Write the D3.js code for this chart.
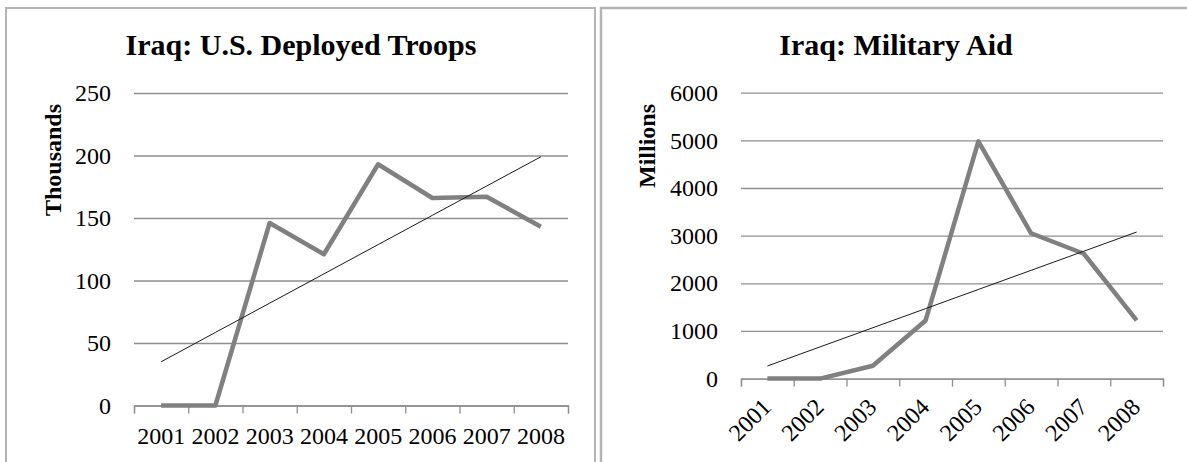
<!DOCTYPE html>
<html>
<head>
<meta charset="utf-8">
<script src="https://cdn.jsdelivr.net/npm/d3@7"></script>
<style>
  html, body { margin: 0; padding: 0; background: #fff; }
  svg { display: block; }
  text { font-family: "Liberation Serif", "Times New Roman", serif; fill: #000; }
</style>
</head>
<body>
<svg id="chart" width="1187" height="462"></svg>
<script>
// Years on the category axis of both panels
const years = ["2001", "2002", "2003", "2004", "2005", "2006", "2007", "2008"];

// U.S. troops deployed in Iraq (thousands)
const troopsThousands = [0, 0, 146, 121, 193, 166, 167, 143];
const troopsTicks = [0, 50, 100, 150, 200, 250];

// Military aid to Iraq (millions)
const aidMillions = [0, 0, 270, 1220, 4980, 3050, 2620, 1220];
const aidTicks = [0, 1000, 2000, 3000, 4000, 5000, 6000];

const svg = d3.select("#chart");

// Panel frames
const frameColor = "#b4b4b4";
svg.append("path")
  .attr("d", "M6,462 V8 H595 V462")
  .attr("fill", "none").attr("stroke", frameColor).attr("stroke-width", 2);
svg.append("path")
  .attr("d", "M601,462 V8 H1187")
  .attr("fill", "none").attr("stroke", frameColor).attr("stroke-width", 2.5);

// Least-squares trend over category index 1..n
function trend(values) {
  const xs = values.map((_, i) => i + 1);
  const mx = d3.mean(xs), my = d3.mean(values);
  const sxy = d3.sum(xs, (x, i) => (x - mx) * (values[i] - my));
  const sxx = d3.sum(xs, x => (x - mx) * (x - mx));
  const b = sxy / sxx, a = my - b * mx;
  return xs.map(x => a + b * x);
}

function drawPanel(opt) {
  const g = svg.append("g");
  const x = d3.scaleBand().domain(years).range([opt.left, opt.right]).padding(0);
  const xEdge = d3.scaleLinear().domain([0, years.length]).range([opt.left, opt.right]);
  const y = d3.scaleLinear().domain([0, d3.max(opt.ticks)]).range([opt.bottom, opt.top]);

  // Title
  g.append("text")
    .attr("x", opt.titleX).attr("y", 55)
    .attr("text-anchor", "middle")
    .attr("font-size", 30).attr("font-weight", "bold")
    .text(opt.title);

  // Axis title
  g.append("text")
    .attr("transform", `translate(${opt.axisTitleX},${opt.axisTitleY}) rotate(-90)`)
    .attr("text-anchor", "middle")
    .attr("font-size", 24).attr("font-weight", "bold")
    .text(opt.axisTitle);

  // Gridlines and value labels
  const yAxis = g.append("g")
    .attr("transform", `translate(${opt.left},0)`)
    .call(d3.axisLeft(y).tickValues(opt.ticks).tickSize(-(opt.right - opt.left)).tickPadding(23).tickFormat(d3.format("d")));
  yAxis.select(".domain").remove();
  yAxis.selectAll(".tick line").attr("stroke", "#8f8f8f").attr("stroke-width", 1.3);
  yAxis.selectAll(".tick text")
    .attr("font-size", 24).attr("font-family", "Liberation Serif, serif").attr("fill", "#000");

  // Category axis: boundary ticks
  const xTicks = g.append("g")
    .attr("transform", `translate(0,${opt.bottom})`)
    .call(d3.axisBottom(xEdge).tickValues(d3.range(years.length + 1)).tickSize(8).tickFormat(""));
  xTicks.select(".domain").attr("stroke", "#8f8f8f").attr("stroke-width", 1.3);
  xTicks.selectAll(".tick line").attr("stroke", "#8f8f8f").attr("stroke-width", 1.3);

  // Category labels
  const xLabels = g.append("g")
    .attr("transform", `translate(0,${opt.bottom})`)
    .call(d3.axisBottom(x).tickSize(0).tickPadding(0));
  xLabels.select(".domain").remove();
  xLabels.selectAll(".tick text")
    .attr("font-size", 24).attr("font-family", "Liberation Serif, serif").attr("fill", "#000");
  if (opt.rotate) {
    xLabels.selectAll(".tick text")
      .attr("text-anchor", "end")
      .attr("dy", 0)
      .attr("transform", "translate(5,30) rotate(-45)")
      .attr("y", 0);
  } else {
    xLabels.selectAll(".tick text").attr("dy", 0).attr("y", 38);
  }

  // Data line
  g.append("path")
    .datum(opt.values)
    .attr("fill", "none")
    .attr("stroke", "#808080")
    .attr("stroke-width", 4.5)
    .attr("stroke-linejoin", "round")
    .attr("d", d3.line()
      .x((d, i) => x(years[i]) + x.bandwidth() / 2)
      .y(d => y(d)));

  // Linear trend line
  const t = trend(opt.values);
  g.append("path")
    .datum(t)
    .attr("fill", "none")
    .attr("stroke", "#1a1a1a")
    .attr("stroke-width", 1)
    .attr("d", d3.line()
      .x((d, i) => x(years[i]) + x.bandwidth() / 2)
      .y(d => y(d)));
}

drawPanel({
  title: "Iraq: U.S. Deployed Troops",
  titleX: 301,
  axisTitle: "Thousands",
  axisTitleX: 61, axisTitleY: 160,
  values: troopsThousands,
  ticks: troopsTicks,
  left: 134, right: 568, top: 93, bottom: 405.5
});

drawPanel({
  title: "Iraq: Military Aid",
  titleX: 896,
  axisTitle: "Millions",
  axisTitleX: 655, axisTitleY: 146,
  values: aidMillions,
  ticks: aidTicks,
  left: 741, right: 1163, top: 92.7, bottom: 378.6,
  rotate: true
});
</script>
</body>
</html>
